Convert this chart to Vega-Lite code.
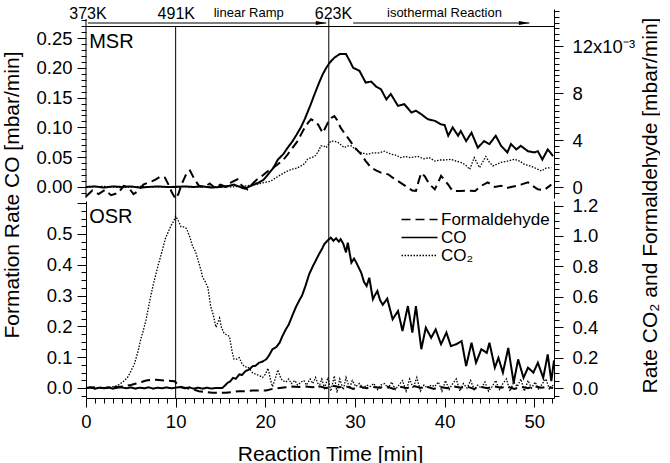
{
"$schema": "https://vega.github.io/schema/vega-lite/v6.json",
"padding": {"left": 1, "top": 6, "right": 0, "bottom": 0},
"config": {"view": {"stroke": null}, "font": "Liberation Sans", "axis": {"grid": false, "domainColor": "black", "tickColor": "black", "labelColor": "black", "titleColor": "black", "titleFontWeight": "normal", "labelOverlap": false, "labelFlush": false, "labelFontSize": 18.5, "titleFontSize": 21, "tickSize": 9, "tickWidth": 1, "domainWidth": 1}},
"datasets": {
"msr": [
{"s":"CO","t":0,"v":0.000},{"s":"CO","t":1,"v":0.001},{"s":"CO","t":2,"v":-0.001},{"s":"CO","t":3,"v":0.001},{"s":"CO","t":4,"v":0.000},{"s":"CO","t":5,"v":0.001},{"s":"CO","t":6,"v":-0.001},{"s":"CO","t":7,"v":0.000},{"s":"CO","t":8,"v":0.001},{"s":"CO","t":9,"v":0.000},{"s":"CO","t":10,"v":0.000},{"s":"CO","t":11,"v":0.001},{"s":"CO","t":12,"v":0.000},{"s":"CO","t":13,"v":0.001},{"s":"CO","t":14,"v":-0.001},{"s":"CO","t":15,"v":0.000},{"s":"CO","t":16,"v":0.002},{"s":"CO","t":16.5,"v":0.004},{"s":"CO","t":17,"v":0.001},{"s":"CO","t":17.7,"v":-0.003},{"s":"CO","t":18.4,"v":0.002},{"s":"CO","t":19.2,"v":0.007},{"s":"CO","t":19.8,"v":0.012},{"s":"CO","t":20.3,"v":0.021},{"s":"CO","t":20.9,"v":0.032},{"s":"CO","t":21.4,"v":0.046},{"s":"CO","t":22.0,"v":0.055},{"s":"CO","t":22.5,"v":0.066},{"s":"CO","t":23.0,"v":0.076},{"s":"CO","t":23.5,"v":0.088},{"s":"CO","t":24.0,"v":0.101},{"s":"CO","t":24.4,"v":0.114},{"s":"CO","t":25.0,"v":0.136},{"s":"CO","t":25.5,"v":0.156},{"s":"CO","t":26.0,"v":0.175},{"s":"CO","t":26.4,"v":0.189},{"s":"CO","t":26.8,"v":0.200},{"s":"CO","t":27.2,"v":0.209},{"s":"CO","t":27.7,"v":0.217},{"s":"CO","t":28.3,"v":0.223},{"s":"CO","t":29.0,"v":0.223},{"s":"CO","t":29.4,"v":0.212},{"s":"CO","t":29.8,"v":0.200},{"s":"CO","t":30.5,"v":0.195},{"s":"CO","t":31.2,"v":0.175},{"s":"CO","t":31.8,"v":0.177},{"s":"CO","t":32.4,"v":0.168},{"s":"CO","t":32.9,"v":0.164},{"s":"CO","t":33.5,"v":0.147},{"s":"CO","t":34.0,"v":0.156},{"s":"CO","t":34.8,"v":0.136},{"s":"CO","t":35.5,"v":0.139},{"s":"CO","t":36.3,"v":0.125},{"s":"CO","t":36.8,"v":0.128},{"s":"CO","t":37.4,"v":0.122},{"s":"CO","t":38.1,"v":0.114},{"s":"CO","t":38.9,"v":0.111},{"s":"CO","t":39.6,"v":0.105},{"s":"CO","t":40.0,"v":0.104},{"s":"CO","t":40.4,"v":0.086},{"s":"CO","t":40.9,"v":0.100},{"s":"CO","t":41.5,"v":0.086},{"s":"CO","t":41.8,"v":0.094},{"s":"CO","t":42.4,"v":0.077},{"s":"CO","t":43.0,"v":0.091},{"s":"CO","t":43.7,"v":0.066},{"s":"CO","t":44.4,"v":0.077},{"s":"CO","t":45.0,"v":0.072},{"s":"CO","t":45.7,"v":0.086},{"s":"CO","t":46.3,"v":0.069},{"s":"CO","t":47.0,"v":0.058},{"s":"CO","t":47.4,"v":0.072},{"s":"CO","t":48.0,"v":0.063},{"s":"CO","t":48.5,"v":0.069},{"s":"CO","t":49.3,"v":0.060},{"s":"CO","t":50.0,"v":0.058},{"s":"CO","t":50.4,"v":0.060},{"s":"CO","t":50.9,"v":0.046},{"s":"CO","t":51.5,"v":0.063},{"s":"CO","t":52.1,"v":0.052},
{"s":"Formaldehyde","t":0,"v":-0.8},{"s":"Formaldehyde","t":0.7,"v":-0.3},{"s":"Formaldehyde","t":1.4,"v":-0.6},{"s":"Formaldehyde","t":2.1,"v":-0.25},{"s":"Formaldehyde","t":2.8,"v":-0.7},{"s":"Formaldehyde","t":3.6,"v":-0.5},{"s":"Formaldehyde","t":4.2,"v":0.1},{"s":"Formaldehyde","t":4.7,"v":0.0},{"s":"Formaldehyde","t":5.3,"v":-0.6},{"s":"Formaldehyde","t":5.8,"v":-0.35},{"s":"Formaldehyde","t":6.4,"v":0.2},{"s":"Formaldehyde","t":6.9,"v":0.37},{"s":"Formaldehyde","t":7.4,"v":0.5},{"s":"Formaldehyde","t":7.8,"v":0.65},{"s":"Formaldehyde","t":8.3,"v":0.9},{"s":"Formaldehyde","t":8.8,"v":0.8},{"s":"Formaldehyde","t":9.2,"v":0.2},{"s":"Formaldehyde","t":9.6,"v":-0.5},{"s":"Formaldehyde","t":10.0,"v":-1.0},{"s":"Formaldehyde","t":10.3,"v":-0.6},{"s":"Formaldehyde","t":10.7,"v":0.3},{"s":"Formaldehyde","t":11.0,"v":0.8},{"s":"Formaldehyde","t":11.3,"v":1.3},{"s":"Formaldehyde","t":11.6,"v":1.4},{"s":"Formaldehyde","t":12.1,"v":0.65},{"s":"Formaldehyde","t":12.6,"v":0.1},{"s":"Formaldehyde","t":13.2,"v":0.0},{"s":"Formaldehyde","t":13.8,"v":0.3},{"s":"Formaldehyde","t":14.4,"v":-0.1},{"s":"Formaldehyde","t":15.0,"v":0.2},{"s":"Formaldehyde","t":15.6,"v":0.0},{"s":"Formaldehyde","t":16.2,"v":0.4},{"s":"Formaldehyde","t":16.9,"v":0.65},{"s":"Formaldehyde","t":17.4,"v":0.1},{"s":"Formaldehyde","t":18.0,"v":-0.2},{"s":"Formaldehyde","t":18.6,"v":0.3},{"s":"Formaldehyde","t":19.0,"v":0.6},{"s":"Formaldehyde","t":19.5,"v":0.85},{"s":"Formaldehyde","t":20.3,"v":1.36},{"s":"Formaldehyde","t":20.8,"v":1.6},{"s":"Formaldehyde","t":21.4,"v":1.93},{"s":"Formaldehyde","t":22.0,"v":2.3},{"s":"Formaldehyde","t":22.5,"v":2.78},{"s":"Formaldehyde","t":23.0,"v":3.3},{"s":"Formaldehyde","t":23.6,"v":3.9},{"s":"Formaldehyde","t":24.0,"v":4.5},{"s":"Formaldehyde","t":24.4,"v":5.05},{"s":"Formaldehyde","t":24.8,"v":5.5},{"s":"Formaldehyde","t":25.1,"v":5.76},{"s":"Formaldehyde","t":25.5,"v":5.6},{"s":"Formaldehyde","t":25.9,"v":5.3},{"s":"Formaldehyde","t":26.4,"v":4.6},{"s":"Formaldehyde","t":27.0,"v":5.5},{"s":"Formaldehyde","t":27.4,"v":5.9},{"s":"Formaldehyde","t":27.7,"v":6.04},{"s":"Formaldehyde","t":28.0,"v":5.7},{"s":"Formaldehyde","t":28.4,"v":5.05},{"s":"Formaldehyde","t":28.8,"v":4.6},{"s":"Formaldehyde","t":29.2,"v":4.2},{"s":"Formaldehyde","t":30.0,"v":3.35},{"s":"Formaldehyde","t":30.7,"v":2.78},{"s":"Formaldehyde","t":31.2,"v":2.2},{"s":"Formaldehyde","t":31.8,"v":1.65},{"s":"Formaldehyde","t":32.4,"v":1.4},{"s":"Formaldehyde","t":32.9,"v":1.22},{"s":"Formaldehyde","t":33.7,"v":1.08},{"s":"Formaldehyde","t":34.2,"v":0.8},{"s":"Formaldehyde","t":34.8,"v":0.5},{"s":"Formaldehyde","t":35.4,"v":0.2},{"s":"Formaldehyde","t":35.9,"v":-0.05},{"s":"Formaldehyde","t":36.4,"v":-0.3},{"s":"Formaldehyde","t":36.8,"v":-0.34},{"s":"Formaldehyde","t":37.1,"v":0.5},{"s":"Formaldehyde","t":37.4,"v":1.2},{"s":"Formaldehyde","t":37.8,"v":0.9},{"s":"Formaldehyde","t":38.1,"v":0.5},{"s":"Formaldehyde","t":38.5,"v":0.1},{"s":"Formaldehyde","t":38.9,"v":-0.2},{"s":"Formaldehyde","t":39.3,"v":0.4},{"s":"Formaldehyde","t":39.6,"v":0.94},{"s":"Formaldehyde","t":40.0,"v":0.6},{"s":"Formaldehyde","t":40.4,"v":0.2},{"s":"Formaldehyde","t":40.9,"v":-0.34},{"s":"Formaldehyde","t":41.8,"v":-0.34},{"s":"Formaldehyde","t":42.6,"v":-0.3},{"s":"Formaldehyde","t":43.4,"v":-0.34},{"s":"Formaldehyde","t":44.1,"v":0.1},{"s":"Formaldehyde","t":44.8,"v":0.4},{"s":"Formaldehyde","t":45.6,"v":0.0},{"s":"Formaldehyde","t":46.3,"v":0.1},{"s":"Formaldehyde","t":46.9,"v":-0.1},{"s":"Formaldehyde","t":47.4,"v":0.0},{"s":"Formaldehyde","t":48.0,"v":0.1},{"s":"Formaldehyde","t":48.5,"v":0.2},{"s":"Formaldehyde","t":49.3,"v":0.4},{"s":"Formaldehyde","t":49.8,"v":0.1},{"s":"Formaldehyde","t":50.4,"v":-0.2},{"s":"Formaldehyde","t":51.1,"v":-0.25},{"s":"Formaldehyde","t":51.9,"v":0.2},
{"s":"CO₂","t":0,"v":0.0},{"s":"CO₂","t":2,"v":0.05},{"s":"CO₂","t":4,"v":-0.05},{"s":"CO₂","t":6,"v":0.05},{"s":"CO₂","t":8,"v":0.0},{"s":"CO₂","t":10,"v":0.05},{"s":"CO₂","t":12,"v":0.0},{"s":"CO₂","t":14,"v":0.05},{"s":"CO₂","t":16,"v":0.0},{"s":"CO₂","t":17,"v":0.05},{"s":"CO₂","t":18,"v":0.1},{"s":"CO₂","t":19.2,"v":0.25},{"s":"CO₂","t":20.0,"v":0.4},{"s":"CO₂","t":20.6,"v":0.5},{"s":"CO₂","t":21.2,"v":0.8},{"s":"CO₂","t":21.8,"v":1.08},{"s":"CO₂","t":22.3,"v":1.3},{"s":"CO₂","t":22.9,"v":1.5},{"s":"CO₂","t":23.5,"v":1.6},{"s":"CO₂","t":24.0,"v":1.8},{"s":"CO₂","t":24.4,"v":2.0},{"s":"CO₂","t":24.7,"v":2.36},{"s":"CO₂","t":25.1,"v":2.5},{"s":"CO₂","t":25.5,"v":2.6},{"s":"CO₂","t":25.9,"v":3.0},{"s":"CO₂","t":26.2,"v":3.5},{"s":"CO₂","t":26.5,"v":3.5},{"s":"CO₂","t":26.8,"v":3.35},{"s":"CO₂","t":27.3,"v":3.9},{"s":"CO₂","t":27.7,"v":3.9},{"s":"CO₂","t":28.1,"v":3.8},{"s":"CO₂","t":28.8,"v":3.35},{"s":"CO₂","t":29.2,"v":3.5},{"s":"CO₂","t":29.6,"v":3.5},{"s":"CO₂","t":30.3,"v":3.05},{"s":"CO₂","t":30.8,"v":2.9},{"s":"CO₂","t":31.4,"v":2.78},{"s":"CO₂","t":32.0,"v":2.9},{"s":"CO₂","t":32.7,"v":2.9},{"s":"CO₂","t":33.3,"v":3.05},{"s":"CO₂","t":34.0,"v":2.8},{"s":"CO₂","t":34.6,"v":2.7},{"s":"CO₂","t":35.1,"v":2.5},{"s":"CO₂","t":35.6,"v":2.6},{"s":"CO₂","t":36.2,"v":2.5},{"s":"CO₂","t":37.0,"v":2.6},{"s":"CO₂","t":37.7,"v":2.4},{"s":"CO₂","t":38.3,"v":2.5},{"s":"CO₂","t":38.9,"v":2.2},{"s":"CO₂","t":39.5,"v":2.3},{"s":"CO₂","t":40.1,"v":2.3},{"s":"CO₂","t":40.7,"v":2.36},{"s":"CO₂","t":41.3,"v":2.2},{"s":"CO₂","t":41.8,"v":2.1},{"s":"CO₂","t":42.3,"v":1.9},{"s":"CO₂","t":42.8,"v":1.5},{"s":"CO₂","t":43.3,"v":2.5},{"s":"CO₂","t":43.9,"v":1.65},{"s":"CO₂","t":44.6,"v":2.6},{"s":"CO₂","t":45.0,"v":2.1},{"s":"CO₂","t":45.4,"v":1.8},{"s":"CO₂","t":46.3,"v":2.1},{"s":"CO₂","t":47.0,"v":2.2},{"s":"CO₂","t":47.8,"v":2.36},{"s":"CO₂","t":48.4,"v":2.2},{"s":"CO₂","t":48.9,"v":1.93},{"s":"CO₂","t":49.5,"v":1.8},{"s":"CO₂","t":50.0,"v":1.65},{"s":"CO₂","t":50.8,"v":1.36},{"s":"CO₂","t":51.3,"v":1.6},{"s":"CO₂","t":51.9,"v":1.65}
],
"osr": [
{"s":"CO","t":0,"v":0.0},{"s":"CO","t":0.5,"v":0.002},{"s":"CO","t":1,"v":-0.002},{"s":"CO","t":1.5,"v":0.001},{"s":"CO","t":2,"v":-0.001},{"s":"CO","t":2.5,"v":0.002},{"s":"CO","t":3,"v":-0.002},{"s":"CO","t":3.5,"v":0.001},{"s":"CO","t":4,"v":0.002},{"s":"CO","t":4.5,"v":-0.001},{"s":"CO","t":5,"v":0.002},{"s":"CO","t":5.5,"v":-0.002},{"s":"CO","t":6,"v":0.001},{"s":"CO","t":6.5,"v":-0.001},{"s":"CO","t":7,"v":0.002},{"s":"CO","t":7.5,"v":-0.002},{"s":"CO","t":8,"v":0.001},{"s":"CO","t":8.5,"v":-0.001},{"s":"CO","t":9,"v":0.002},{"s":"CO","t":9.5,"v":-0.001},{"s":"CO","t":10,"v":0.001},{"s":"CO","t":10.5,"v":0.003},{"s":"CO","t":11,"v":-0.001},{"s":"CO","t":11.5,"v":0.002},{"s":"CO","t":12,"v":-0.002},{"s":"CO","t":12.5,"v":0.001},{"s":"CO","t":13,"v":-0.002},{"s":"CO","t":13.5,"v":0.001},{"s":"CO","t":14,"v":-0.002},{"s":"CO","t":14.5,"v":0.0},{"s":"CO","t":15.2,"v":0.0},{"s":"CO","t":15.5,"v":0.008},{"s":"CO","t":15.8,"v":0.017},{"s":"CO","t":16.1,"v":0.022},{"s":"CO","t":16.4,"v":0.033},{"s":"CO","t":16.7,"v":0.030},{"s":"CO","t":17.1,"v":0.044},{"s":"CO","t":17.4,"v":0.042},{"s":"CO","t":17.8,"v":0.055},{"s":"CO","t":18.2,"v":0.060},{"s":"CO","t":18.6,"v":0.071},{"s":"CO","t":18.9,"v":0.072},{"s":"CO","t":19.3,"v":0.082},{"s":"CO","t":19.7,"v":0.086},{"s":"CO","t":20.1,"v":0.093},{"s":"CO","t":20.4,"v":0.105},{"s":"CO","t":20.8,"v":0.126},{"s":"CO","t":21.2,"v":0.132},{"s":"CO","t":21.6,"v":0.147},{"s":"CO","t":21.9,"v":0.168},{"s":"CO","t":22.3,"v":0.191},{"s":"CO","t":22.6,"v":0.205},{"s":"CO","t":23.0,"v":0.234},{"s":"CO","t":23.4,"v":0.262},{"s":"CO","t":23.8,"v":0.285},{"s":"CO","t":24.1,"v":0.300},{"s":"CO","t":24.5,"v":0.333},{"s":"CO","t":24.9,"v":0.37},{"s":"CO","t":25.3,"v":0.395},{"s":"CO","t":25.6,"v":0.412},{"s":"CO","t":26.0,"v":0.435},{"s":"CO","t":26.3,"v":0.450},{"s":"CO","t":26.6,"v":0.468},{"s":"CO","t":27.0,"v":0.480},{"s":"CO","t":27.3,"v":0.488},{"s":"CO","t":27.6,"v":0.478},{"s":"CO","t":27.9,"v":0.486},{"s":"CO","t":28.2,"v":0.475},{"s":"CO","t":28.4,"v":0.483},{"s":"CO","t":28.7,"v":0.468},{"s":"CO","t":29.0,"v":0.440},{"s":"CO","t":29.2,"v":0.472},{"s":"CO","t":29.6,"v":0.407},{"s":"CO","t":29.9,"v":0.420},{"s":"CO","t":30.1,"v":0.41},{"s":"CO","t":30.4,"v":0.392},{"s":"CO","t":30.7,"v":0.374},{"s":"CO","t":31.0,"v":0.345},{"s":"CO","t":31.3,"v":0.331},{"s":"CO","t":31.6,"v":0.358},{"s":"CO","t":32.0,"v":0.288},{"s":"CO","t":32.2,"v":0.300},{"s":"CO","t":32.5,"v":0.315},{"s":"CO","t":32.8,"v":0.285},{"s":"CO","t":33.1,"v":0.270},{"s":"CO","t":33.6,"v":0.29},{"s":"CO","t":34.2,"v":0.223},{"s":"CO","t":34.8,"v":0.25},{"s":"CO","t":35.3,"v":0.185},{"s":"CO","t":35.9,"v":0.266},{"s":"CO","t":36.4,"v":0.18},{"s":"CO","t":36.8,"v":0.266},{"s":"CO","t":37.4,"v":0.126},{"s":"CO","t":37.9,"v":0.196},{"s":"CO","t":38.5,"v":0.163},{"s":"CO","t":39.0,"v":0.19},{"s":"CO","t":39.6,"v":0.142},{"s":"CO","t":40.2,"v":0.18},{"s":"CO","t":40.7,"v":0.136},{"s":"CO","t":41.3,"v":0.142},{"s":"CO","t":41.9,"v":0.152},{"s":"CO","t":42.4,"v":0.071},{"s":"CO","t":43.0,"v":0.147},{"s":"CO","t":43.5,"v":0.082},{"s":"CO","t":44.1,"v":0.126},{"s":"CO","t":44.7,"v":0.114},{"s":"CO","t":45.0,"v":0.147},{"s":"CO","t":45.6,"v":0.066},{"s":"CO","t":46.0,"v":0.098},{"s":"CO","t":46.5,"v":0.05},{"s":"CO","t":47.1,"v":0.13},{"s":"CO","t":47.7,"v":0.017},{"s":"CO","t":48.2,"v":0.093},{"s":"CO","t":48.8,"v":0.033},{"s":"CO","t":49.3,"v":0.066},{"s":"CO","t":49.9,"v":0.05},{"s":"CO","t":50.4,"v":0.082},{"s":"CO","t":51.0,"v":0.033},{"s":"CO","t":51.5,"v":0.109},{"s":"CO","t":51.9,"v":0.022},{"s":"CO","t":52.2,"v":0.09},
{"s":"Formaldehyde","t":0,"v":0.0},{"s":"Formaldehyde","t":1,"v":0.005},{"s":"Formaldehyde","t":2,"v":0.0},{"s":"Formaldehyde","t":3,"v":0.005},{"s":"Formaldehyde","t":4,"v":0.01},{"s":"Formaldehyde","t":5,"v":0.02},{"s":"Formaldehyde","t":5.6,"v":0.03},{"s":"Formaldehyde","t":6.2,"v":0.04},{"s":"Formaldehyde","t":6.7,"v":0.05},{"s":"Formaldehyde","t":7.3,"v":0.055},{"s":"Formaldehyde","t":7.8,"v":0.055},{"s":"Formaldehyde","t":8.4,"v":0.052},{"s":"Formaldehyde","t":8.9,"v":0.05},{"s":"Formaldehyde","t":9.5,"v":0.047},{"s":"Formaldehyde","t":9.9,"v":0.045},{"s":"Formaldehyde","t":10.4,"v":0.01},{"s":"Formaldehyde","t":11.2,"v":0.0},{"s":"Formaldehyde","t":12.0,"v":-0.01},{"s":"Formaldehyde","t":12.6,"v":-0.02},{"s":"Formaldehyde","t":13.3,"v":-0.025},{"s":"Formaldehyde","t":14.1,"v":-0.03},{"s":"Formaldehyde","t":14.8,"v":-0.03},{"s":"Formaldehyde","t":15.6,"v":-0.03},{"s":"Formaldehyde","t":16.4,"v":-0.025},{"s":"Formaldehyde","t":17.1,"v":-0.02},{"s":"Formaldehyde","t":17.8,"v":-0.02},{"s":"Formaldehyde","t":18.6,"v":-0.015},{"s":"Formaldehyde","t":19.4,"v":-0.015},{"s":"Formaldehyde","t":20.1,"v":-0.015},{"s":"Formaldehyde","t":20.8,"v":-0.005},{"s":"Formaldehyde","t":21.6,"v":0.0},{"s":"Formaldehyde","t":22.3,"v":0.005},{"s":"Formaldehyde","t":23.0,"v":0.01},{"s":"Formaldehyde","t":23.8,"v":0.008},{"s":"Formaldehyde","t":24.5,"v":0.01},{"s":"Formaldehyde","t":25.3,"v":0.005},{"s":"Formaldehyde","t":26.0,"v":0.012},{"s":"Formaldehyde","t":26.8,"v":0.0},{"s":"Formaldehyde","t":27.5,"v":0.015},{"s":"Formaldehyde","t":28.3,"v":0.005},{"s":"Formaldehyde","t":29.0,"v":0.012},{"s":"Formaldehyde","t":29.8,"v":-0.005},{"s":"Formaldehyde","t":30.5,"v":0.01},{"s":"Formaldehyde","t":31.3,"v":0.0},{"s":"Formaldehyde","t":32.0,"v":0.008},{"s":"Formaldehyde","t":32.8,"v":0.002},{"s":"Formaldehyde","t":33.5,"v":0.012},{"s":"Formaldehyde","t":34.3,"v":-0.005},{"s":"Formaldehyde","t":35.0,"v":0.01},{"s":"Formaldehyde","t":35.8,"v":0.0},{"s":"Formaldehyde","t":36.5,"v":0.015},{"s":"Formaldehyde","t":37.3,"v":0.002},{"s":"Formaldehyde","t":38.0,"v":0.01},{"s":"Formaldehyde","t":38.8,"v":-0.005},{"s":"Formaldehyde","t":39.5,"v":0.008},{"s":"Formaldehyde","t":40.3,"v":0.0},{"s":"Formaldehyde","t":41.0,"v":0.012},{"s":"Formaldehyde","t":41.8,"v":0.002},{"s":"Formaldehyde","t":42.5,"v":0.01},{"s":"Formaldehyde","t":43.3,"v":-0.005},{"s":"Formaldehyde","t":44.0,"v":0.008},{"s":"Formaldehyde","t":44.8,"v":0.0},{"s":"Formaldehyde","t":45.5,"v":0.012},{"s":"Formaldehyde","t":46.3,"v":0.002},{"s":"Formaldehyde","t":47.0,"v":0.01},{"s":"Formaldehyde","t":47.8,"v":-0.005},{"s":"Formaldehyde","t":48.5,"v":0.008},{"s":"Formaldehyde","t":49.3,"v":0.0},{"s":"Formaldehyde","t":50.0,"v":0.012},{"s":"Formaldehyde","t":50.8,"v":0.002},{"s":"Formaldehyde","t":51.5,"v":0.01},{"s":"Formaldehyde","t":52.1,"v":0.0},
{"s":"CO₂","t":0,"v":0.0},{"s":"CO₂","t":0.5,"v":0.005},{"s":"CO₂","t":1,"v":-0.005},{"s":"CO₂","t":1.5,"v":0.005},{"s":"CO₂","t":2,"v":0.0},{"s":"CO₂","t":2.5,"v":0.005},{"s":"CO₂","t":3,"v":0.01},{"s":"CO₂","t":3.4,"v":0.015},{"s":"CO₂","t":3.7,"v":0.024},{"s":"CO₂","t":4.2,"v":0.045},{"s":"CO₂","t":4.6,"v":0.067},{"s":"CO₂","t":5.0,"v":0.11},{"s":"CO₂","t":5.4,"v":0.16},{"s":"CO₂","t":5.8,"v":0.24},{"s":"CO₂","t":6.1,"v":0.32},{"s":"CO₂","t":6.4,"v":0.38},{"s":"CO₂","t":6.7,"v":0.45},{"s":"CO₂","t":7.0,"v":0.54},{"s":"CO₂","t":7.2,"v":0.60},{"s":"CO₂","t":7.5,"v":0.68},{"s":"CO₂","t":7.8,"v":0.75},{"s":"CO₂","t":8.1,"v":0.82},{"s":"CO₂","t":8.4,"v":0.88},{"s":"CO₂","t":8.7,"v":0.95},{"s":"CO₂","t":8.9,"v":0.99},{"s":"CO₂","t":9.2,"v":1.03},{"s":"CO₂","t":9.5,"v":1.07},{"s":"CO₂","t":9.8,"v":1.10},{"s":"CO₂","t":10.0,"v":1.13},{"s":"CO₂","t":10.3,"v":1.10},{"s":"CO₂","t":10.6,"v":1.06},{"s":"CO₂","t":10.9,"v":1.06},{"s":"CO₂","t":11.2,"v":1.05},{"s":"CO₂","t":11.6,"v":0.99},{"s":"CO₂","t":11.9,"v":0.93},{"s":"CO₂","t":12.2,"v":0.90},{"s":"CO₂","t":12.5,"v":0.84},{"s":"CO₂","t":12.8,"v":0.78},{"s":"CO₂","t":13.0,"v":0.73},{"s":"CO₂","t":13.3,"v":0.70},{"s":"CO₂","t":13.6,"v":0.66},{"s":"CO₂","t":13.9,"v":0.54},{"s":"CO₂","t":14.2,"v":0.48},{"s":"CO₂","t":14.5,"v":0.40},{"s":"CO₂","t":14.9,"v":0.46},{"s":"CO₂","t":15.1,"v":0.40},{"s":"CO₂","t":15.4,"v":0.36},{"s":"CO₂","t":15.7,"v":0.35},{"s":"CO₂","t":16.0,"v":0.34},{"s":"CO₂","t":16.3,"v":0.24},{"s":"CO₂","t":16.5,"v":0.19},{"s":"CO₂","t":16.8,"v":0.19},{"s":"CO₂","t":17.1,"v":0.20},{"s":"CO₂","t":17.4,"v":0.16},{"s":"CO₂","t":17.7,"v":0.14},{"s":"CO₂","t":18.0,"v":0.14},{"s":"CO₂","t":18.2,"v":0.13},{"s":"CO₂","t":18.6,"v":0.10},{"s":"CO₂","t":19.0,"v":0.09},{"s":"CO₂","t":19.4,"v":0.08},{"s":"CO₂","t":19.7,"v":0.07},{"s":"CO₂","t":20.0,"v":0.09},{"s":"CO₂","t":20.3,"v":0.13},{"s":"CO₂","t":20.6,"v":0.05},{"s":"CO₂","t":20.8,"v":0.01},{"s":"CO₂","t":21.1,"v":0.06},{"s":"CO₂","t":21.4,"v":0.12},{"s":"CO₂","t":21.7,"v":0.07},{"s":"CO₂","t":21.9,"v":0.05},{"s":"CO₂","t":22.3,"v":0.04},{"s":"CO₂","t":22.6,"v":0.06},{"s":"CO₂","t":22.9,"v":0.03},{"s":"CO₂","t":23.3,"v":0.05},{"s":"CO₂","t":23.6,"v":0.02},{"s":"CO₂","t":24.0,"v":0.04},{"s":"CO₂","t":24.3,"v":0.05},{"s":"CO₂","t":24.6,"v":0.02},{"s":"CO₂","t":25.0,"v":0.06},{"s":"CO₂","t":25.3,"v":0.03},{"s":"CO₂","t":25.6,"v":0.07},{"s":"CO₂","t":26.0,"v":0.01},{"s":"CO₂","t":26.3,"v":0.06},{"s":"CO₂","t":26.6,"v":0.0},{"s":"CO₂","t":27.0,"v":0.07},{"s":"CO₂","t":27.3,"v":-0.02},{"s":"CO₂","t":27.7,"v":0.08},{"s":"CO₂","t":28.0,"v":-0.03},{"s":"CO₂","t":28.3,"v":0.06},{"s":"CO₂","t":28.7,"v":-0.01},{"s":"CO₂","t":29.0,"v":0.07},{"s":"CO₂","t":29.4,"v":0.0},{"s":"CO₂","t":29.7,"v":0.05},{"s":"CO₂","t":30.1,"v":0.01},{"s":"CO₂","t":30.5,"v":0.03},{"s":"CO₂","t":30.9,"v":0.0},{"s":"CO₂","t":31.3,"v":0.02},{"s":"CO₂","t":31.7,"v":0.01},{"s":"CO₂","t":32.1,"v":0.03},{"s":"CO₂","t":32.5,"v":-0.01},{"s":"CO₂","t":32.9,"v":0.02},{"s":"CO₂","t":33.3,"v":0.03},{"s":"CO₂","t":33.7,"v":0.0},{"s":"CO₂","t":34.1,"v":0.04},{"s":"CO₂","t":34.5,"v":-0.01},{"s":"CO₂","t":34.9,"v":0.02},{"s":"CO₂","t":35.3,"v":0.05},{"s":"CO₂","t":35.7,"v":-0.02},{"s":"CO₂","t":36.1,"v":0.06},{"s":"CO₂","t":36.5,"v":0.0},{"s":"CO₂","t":36.9,"v":0.07},{"s":"CO₂","t":37.3,"v":-0.02},{"s":"CO₂","t":37.7,"v":0.02},{"s":"CO₂","t":38.1,"v":0.0},{"s":"CO₂","t":38.5,"v":0.02},{"s":"CO₂","t":38.9,"v":0.01},{"s":"CO₂","t":39.3,"v":0.04},{"s":"CO₂","t":39.7,"v":-0.02},{"s":"CO₂","t":40.1,"v":0.05},{"s":"CO₂","t":40.5,"v":-0.01},{"s":"CO₂","t":40.9,"v":0.03},{"s":"CO₂","t":41.3,"v":0.06},{"s":"CO₂","t":41.7,"v":-0.02},{"s":"CO₂","t":42.1,"v":0.03},{"s":"CO₂","t":42.5,"v":0.0},{"s":"CO₂","t":42.9,"v":0.05},{"s":"CO₂","t":43.3,"v":-0.01},{"s":"CO₂","t":43.7,"v":0.02},{"s":"CO₂","t":44.1,"v":0.0},{"s":"CO₂","t":44.5,"v":0.04},{"s":"CO₂","t":44.9,"v":-0.02},{"s":"CO₂","t":45.3,"v":0.01},{"s":"CO₂","t":45.7,"v":0.05},{"s":"CO₂","t":46.1,"v":-0.01},{"s":"CO₂","t":46.5,"v":0.03},{"s":"CO₂","t":46.9,"v":0.06},{"s":"CO₂","t":47.3,"v":-0.02},{"s":"CO₂","t":47.7,"v":0.04},{"s":"CO₂","t":48.1,"v":0.01},{"s":"CO₂","t":48.5,"v":0.06},{"s":"CO₂","t":48.9,"v":-0.02},{"s":"CO₂","t":49.3,"v":0.05},{"s":"CO₂","t":49.7,"v":0.0},{"s":"CO₂","t":50.1,"v":0.04},{"s":"CO₂","t":50.5,"v":-0.01},{"s":"CO₂","t":50.9,"v":0.03},{"s":"CO₂","t":51.3,"v":0.06},{"s":"CO₂","t":51.7,"v":-0.01},{"s":"CO₂","t":52.1,"v":0.02}
]
},
"spacing": 3,
"bounds": "flush",
"resolve": {"scale": {"strokeDash": "independent", "strokeWidth": "independent", "x": "independent"}, "legend": {"strokeDash": "independent"}},
"vconcat": [
{
"width": 468, "height": 189,
"resolve": {"scale": {"y": "independent"}},
"layer": [
{
"data": {"name": "msr"},
"transform": [{"filter": "datum.s === 'CO'"}],
"mark": {"type": "line", "color": "black", "strokeWidth": 2},
"encoding": {
"x": {"field": "t", "type": "quantitative", "scale": {"domain": [0, 52.2], "nice": false, "zero": false}, "axis": null},
"y": {"field": "v", "type": "quantitative", "scale": {"domain": [-0.0185, 0.2987], "nice": false, "zero": false},
"axis": {"orient": "left", "domain": false, "values": [0,0.05,0.1,0.15,0.2,0.25], "format": ".2f", "labelOverlap": false, "labelPadding": 5,
"title": "Formation Rate CO [mbar/min]", "titleAngle": 270, "titleBaseline": "alphabetic", "titleAlign": "center", "titleX": -68, "titleY": 185.5}},
"strokeDash": {"field": "s", "type": "nominal", "scale": {"domain": ["Formaldehyde","CO","CO₂"], "range": [[9,5],[1,0],[1.5,1.5]]}, "legend": null}
}
},
{
"data": {"name": "msr"},
"transform": [{"filter": "datum.s !== 'CO'"}],
"mark": {"type": "line", "color": "black"},
"encoding": {
"x": {"field": "t", "type": "quantitative", "scale": {"domain": [0, 52.2], "nice": false, "zero": false}, "axis": null},
"y": {"field": "v", "type": "quantitative", "scale": {"domain": [-0.936, 15.15], "nice": false, "zero": false},
"axis": {"orient": "right", "values": [0,4,8,12], "labelOverlap": false,
"labelExpr": "datum.value==12 ? '12x10⁻³' : format(datum.value,'d')",
"labelPadding": 9,
"title": "Rate CO₂ and Formaldehyde [mbar/min]", "titleAngle": 270, "titleBaseline": "alphabetic", "titleAlign": "center", "titleX": 102, "titleY": 196}},
"strokeDash": {"field": "s", "type": "nominal", "scale": {"domain": ["Formaldehyde","CO","CO₂"], "range": [[9,5],[1,0],[1.5,1.5]]}, "legend": null},
"strokeWidth": {"field": "s", "type": "ordinal", "scale": {"domain": ["Formaldehyde","CO₂"], "range": [2,1.3]}, "legend": null}
}
},
{
"data": {"values": [{"v": 0}]},
"mark": {"type": "rule", "opacity": 0},
"encoding": {
"y": {"field": "v", "type": "quantitative", "scale": {"domain": [-0.0185, 0.2987], "nice": false, "zero": false},
"axis": {"orient": "left", "domain": false, "labels": false, "title": null, "tickSize": 5, "values": [-0.01,0.01,0.02,0.03,0.04,0.06,0.07,0.08,0.09,0.11,0.12,0.13,0.14,0.16,0.17,0.18,0.19,0.21,0.22,0.23,0.24,0.26,0.27,0.28]}}
}
},
{
"data": {"values": [{"v": 0}]},
"mark": {"type": "rule", "opacity": 0},
"encoding": {
"y": {"field": "v", "type": "quantitative", "scale": {"domain": [-0.936, 15.15], "nice": false, "zero": false},
"axis": {"orient": "right", "domain": false, "labels": false, "title": null, "tickSize": 5, "values": [-0.5,0.5,1,1.5,2,2.5,3,3.5,4.5,5,5.5,6,6.5,7,7.5,8.5,9,9.5,10,10.5,11,11.5,12.5,13,13.5,14,14.5,15]}}
}
},
{
"data": {"values": [{"t":0,"y":-0.0185,"y2":0.282},{"t":10.0,"y":-0.0236,"y2":0.2693},{"t":27.08,"y":-0.0236,"y2":0.282}]},
"mark": {"type": "rule", "color": "black", "strokeWidth": 1},
"encoding": {
"x": {"field": "t", "type": "quantitative", "scale": {"domain": [0, 52.2], "nice": false, "zero": false}, "axis": null},
"y": {"field": "y", "type": "quantitative", "scale": {"domain": [-0.0185, 0.2987], "nice": false, "zero": false}, "axis": null},
"y2": {"field": "y2"}
}
},
{
"data": {"values": [{"y": 0.2693}]},
"mark": {"type": "rule", "color": "black", "strokeWidth": 1},
"encoding": {
"y": {"field": "y", "type": "quantitative", "scale": {"domain": [-0.0185, 0.2987], "nice": false, "zero": false}, "axis": null}
}
},
{
"data": {"values": [{"t":0.22,"t2":26.79,"y":0.2752},{"t":29.8,"t2":49.45,"y":0.2752}]},
"mark": {"type": "rule", "color": "black", "strokeWidth": 1},
"encoding": {
"x": {"field": "t", "type": "quantitative", "scale": {"domain": [0, 52.2], "nice": false, "zero": false}, "axis": null},
"x2": {"field": "t2"},
"y": {"field": "y", "type": "quantitative", "scale": {"domain": [-0.0185, 0.2987], "nice": false, "zero": false}, "axis": null}
}
},
{
"data": {"values": [{"t":26.21,"y":0.2752},{"t":48.87,"y":0.2752}]},
"mark": {"type": "point", "shape": "M-1,-0.4L1,0L-1,0.4Z", "filled": true, "color": "black", "opacity": 1, "size": 110},
"encoding": {
"x": {"field": "t", "type": "quantitative", "scale": {"domain": [0, 52.2], "nice": false, "zero": false}, "axis": null},
"y": {"field": "y", "type": "quantitative", "scale": {"domain": [-0.0185, 0.2987], "nice": false, "zero": false}, "axis": null}
}
},
{
"data": {"values": [{"t":0.22,"y":0.2819,"label":"373K"},{"t":10.07,"y":0.2819,"label":"491K"},{"t":27.6,"y":0.2819,"label":"623K"}]},
"mark": {"type": "text", "fontSize": 16, "color": "black", "align": "center", "baseline": "alphabetic"},
"encoding": {
"x": {"field": "t", "type": "quantitative", "scale": {"domain": [0, 52.2], "nice": false, "zero": false}, "axis": null},
"y": {"field": "y", "type": "quantitative", "scale": {"domain": [-0.0185, 0.2987], "nice": false, "zero": false}, "axis": null},
"text": {"field": "label"}
}
},
{
"data": {"values": [{"t":18.15,"y":0.2855,"label":"linear Ramp"},{"t":39.98,"y":0.2855,"label":"isothermal Reaction"}]},
"mark": {"type": "text", "fontSize": 13, "color": "black", "align": "center", "baseline": "alphabetic"},
"encoding": {
"x": {"field": "t", "type": "quantitative", "scale": {"domain": [0, 52.2], "nice": false, "zero": false}, "axis": null},
"y": {"field": "y", "type": "quantitative", "scale": {"domain": [-0.0185, 0.2987], "nice": false, "zero": false}, "axis": null},
"text": {"field": "label"}
}
},
{
"data": {"values": [{"t":0.35,"y":0.2332,"label":"MSR"}]},
"mark": {"type": "text", "fontSize": 20, "color": "black", "align": "left", "baseline": "alphabetic"},
"encoding": {
"x": {"field": "t", "type": "quantitative", "scale": {"domain": [0, 52.2], "nice": false, "zero": false}, "axis": null},
"y": {"field": "y", "type": "quantitative", "scale": {"domain": [-0.0185, 0.2987], "nice": false, "zero": false}, "axis": null},
"text": {"field": "label"}
}
}
]
},
{
"width": 468, "height": 197,
"resolve": {"scale": {"y": "independent", "x": "independent"}},
"layer": [
{
"data": {"name": "osr"},
"transform": [{"filter": "datum.s === 'CO'"}],
"mark": {"type": "line", "color": "black", "strokeWidth": 2},
"encoding": {
"x": {"field": "t", "type": "quantitative", "scale": {"domain": [0, 52.2], "nice": false, "zero": false},
"axis": {"orient": "bottom", "values": [0,10,20,30,40,50], "format": "d", "labelOverlap": false, "labelPadding": 5,
"title": "Reaction Time [min]", "titleBaseline": "alphabetic", "titleAlign": "center", "titleX": 244, "titleY": 62}},
"y": {"field": "v", "type": "quantitative", "scale": {"domain": [-0.0325, 0.607], "nice": false, "zero": false},
"axis": {"orient": "left", "values": [0,0.1,0.2,0.3,0.4,0.5,0.6], "labelOverlap": false,
"labelExpr": "datum.value < 0.55 ? format(datum.value,'.1f') : ''",
"labelPadding": 5, "title": null}},
"strokeDash": {"field": "s", "type": "nominal", "scale": {"domain": ["Formaldehyde","CO","CO₂"], "range": [[9,5],[1,0],[1.5,1.5]]},
"legend": {"orient": "none", "legendX": 313, "legendY": 10, "padding": 0, "title": null, "symbolType": "M-1,0H5", "symbolSize": 144, "symbolStrokeWidth": 1.5, "symbolStrokeColor": "black", "symbolFillColor": "transparent", "labelFontSize": 17, "labelColor": "black", "labelOffset": 25, "rowPadding": 0}}
}
},
{
"data": {"name": "osr"},
"transform": [{"filter": "datum.s !== 'CO'"}],
"mark": {"type": "line", "color": "black"},
"encoding": {
"x": {"field": "t", "type": "quantitative", "scale": {"domain": [0, 52.2], "nice": false, "zero": false}, "axis": null},
"y": {"field": "v", "type": "quantitative", "scale": {"domain": [-0.065, 1.23], "nice": false, "zero": false},
"axis": {"orient": "right", "values": [0,0.2,0.4,0.6,0.8,1,1.2], "format": ".1f", "labelOverlap": false,
"labelPadding": 9, "title": null}},
"strokeDash": {"field": "s", "type": "nominal", "scale": {"domain": ["Formaldehyde","CO","CO₂"], "range": [[9,5],[1,0],[1.5,1.5]]}},
"strokeWidth": {"field": "s", "type": "ordinal", "scale": {"domain": ["Formaldehyde","CO₂"], "range": [2,1.3]}, "legend": null}
}
},
{
"data": {"values": [{"v": 0}]},
"mark": {"type": "rule", "opacity": 0},
"encoding": {
"y": {"field": "v", "type": "quantitative", "scale": {"domain": [-0.0325, 0.607], "nice": false, "zero": false},
"axis": {"orient": "left", "domain": false, "labels": false, "title": null, "tickSize": 5, "values": [-0.025,0.025,0.05,0.075,0.125,0.15,0.175,0.225,0.25,0.275,0.325,0.35,0.375,0.425,0.45,0.475,0.525,0.55,0.575]}}
}
},
{
"data": {"values": [{"v": 0}]},
"mark": {"type": "rule", "opacity": 0},
"encoding": {
"y": {"field": "v", "type": "quantitative", "scale": {"domain": [-0.065, 1.23], "nice": false, "zero": false},
"axis": {"orient": "right", "domain": false, "labels": false, "title": null, "tickSize": 5, "values": [-0.05,0.05,0.1,0.15,0.25,0.3,0.35,0.45,0.5,0.55,0.65,0.7,0.75,0.85,0.9,0.95,1.05,1.1,1.15]}}
}
},
{
"data": {"values": [{"t": 0}]},
"mark": {"type": "rule", "opacity": 0},
"encoding": {
"x": {"field": "t", "type": "quantitative", "scale": {"domain": [0, 52.2], "nice": false, "zero": false},
"axis": {"orient": "bottom", "domain": false, "labels": false, "title": null, "tickSize": 5, "values": [1,2,3,4,5,6,7,8,9,11,12,13,14,15,16,17,18,19,21,22,23,24,25,26,27,28,29,31,32,33,34,35,36,37,38,39,41,42,43,44,45,46,47,48,49,51,52]}}
}
},
{
"data": {"values": [{"t":10.0},{"t":27.08}]},
"mark": {"type": "rule", "color": "black", "strokeWidth": 1},
"encoding": {
"x": {"field": "t", "type": "quantitative", "scale": {"domain": [0, 52.2], "nice": false, "zero": false}, "axis": null}
}
},
{
"data": {"values": [{"t":0.35,"y":0.536,"label":"OSR"}]},
"mark": {"type": "text", "fontSize": 20, "color": "black", "align": "left", "baseline": "alphabetic"},
"encoding": {
"x": {"field": "t", "type": "quantitative", "scale": {"domain": [0, 52.2], "nice": false, "zero": false}, "axis": null},
"y": {"field": "y", "type": "quantitative", "scale": {"domain": [-0.0325, 0.607], "nice": false, "zero": false}, "axis": null},
"text": {"field": "label"}
}
}
]
}
]
}
